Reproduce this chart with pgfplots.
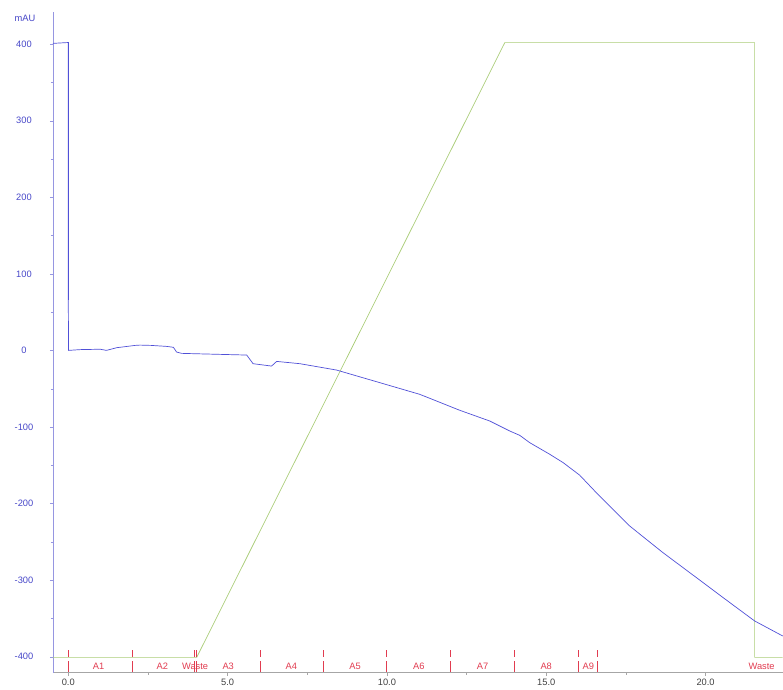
\documentclass[border=0pt]{standalone}
\usepackage{pgfplots}
\pgfplotsset{compat=1.18}
\usepackage{fontspec}
\setmainfont{Liberation Sans}
\definecolor{uvblue}{RGB}{80,80,215}
\definecolor{axblue}{RGB}{150,150,225}
\definecolor{lblblue}{RGB}{70,70,200}
\definecolor{gradgreen}{RGB}{170,205,120}
\definecolor{fracred}{RGB}{225,60,80}
\begin{document}
\begin{tikzpicture}
\begin{axis}[
  width=730pt, height=661pt, scale only axis,
  xmin=-0.48, xmax=22.42, ymin=-421, ymax=442,
  axis x line*=bottom, axis y line*=left,
  x axis line style={color=gray!70,-},
  y axis line style={color=axblue,-},
  xtick={0,5,10,15,20},
  xticklabels={0.0,5.0,10.0,15.0,20.0},
  ytick={-400,-300,-200,-100,0,100,200,300,400},
  minor x tick num=1, minor y tick num=1,
  tick align=outside,
  major tick length=3pt, minor tick length=2pt,
  x tick style={color=gray!70},
  y tick style={color=axblue},
  tick label style={font=\fontsize{9.3}{10}\selectfont},
  /pgf/number format/assume math mode=true,
  yticklabel style={color=lblblue, anchor=center, xshift=-26pt},
  xticklabel style={color=black!75},
  clip=false,
]
% gradient (green)
\addplot[gradgreen, line width=0.7pt] coordinates {
(-0.48,-401)(4.03,-401)(13.7,402)(21.54,402)(21.54,-401)(22.42,-401)};
% UV trace (blue)
\addplot[uvblue, line width=0.7pt] coordinates {
(-0.48,401)(-0.05,402)(0,402)(0,65)(0.01,0)
(0.38,1)(1.0,1.5)(1.2,0)(1.52,3.5)(2.1,6.5)(2.25,6.9)(2.6,6.5)(3.09,5.2)(3.3,4)
(3.40,-2.2)(3.56,-3.9)(4.1,-4.5)(5.6,-6.1)(5.8,-17.4)(6.38,-20.5)(6.54,-14.4)
(7.27,-17.4)(8.42,-25.7)(9.78,-42.2)(11.03,-57.4)(12.29,-78.3)(13.23,-92.3)
(13.86,-105.4)(14.17,-111)(14.48,-120.5)(15.11,-135.7)(15.53,-146.6)(16.05,-163)
(16.57,-185.8)(17.1,-208)(17.62,-229.4)(18.66,-264.1)(19.71,-296.7)(20.76,-329.4)
(21.54,-353.4)(22.42,-373)};
% thicker initial part of the trace
\addplot[uvblue, line width=1.3pt] coordinates {(-0.05,402)(0,402)(0,66)};
% fraction marks (red)
\pgfplotsinvokeforeach{0,2.01,3.95,4.02,6.02,8.02,9.98,12.0,14.0,16.0,16.62}{
  \addplot[fracred, line width=0.8pt, forget plot] coordinates {(#1,-392)(#1,-400)};
  \addplot[fracred, line width=0.8pt, forget plot] coordinates {(#1,-406)(#1,-420)};
}
\begin{scope}[every node/.style={font=\fontsize{9.3}{10}\selectfont, text=fracred, inner sep=0pt}]
\node at (axis cs:0.95,-412.6) {A1};
\node at (axis cs:2.95,-412.6) {A2};
\node at (axis cs:3.98,-412.6) {Waste};
\node at (axis cs:5.02,-412.6) {A3};
\node at (axis cs:7.0,-412.6) {A4};
\node at (axis cs:9.0,-412.6) {A5};
\node at (axis cs:11.0,-412.6) {A6};
\node at (axis cs:13.0,-412.6) {A7};
\node at (axis cs:15.0,-412.6) {A8};
\node at (axis cs:16.32,-412.6) {A9};
\node at (axis cs:21.76,-412.6) {Waste};
\end{scope}
\node[font=\fontsize{9.3}{10}\selectfont, text=lblblue, inner sep=0pt] at (axis cs:-0.48,433.4) [xshift=-28pt] {mAU};
\coordinate (sw) at (rel axis cs:0,0);
\coordinate (ne) at (rel axis cs:1,1);
\end{axis}
\path (sw) ++(-53pt,-13pt);
\path (ne) ++(0pt,12pt);
\end{tikzpicture}
\end{document}
